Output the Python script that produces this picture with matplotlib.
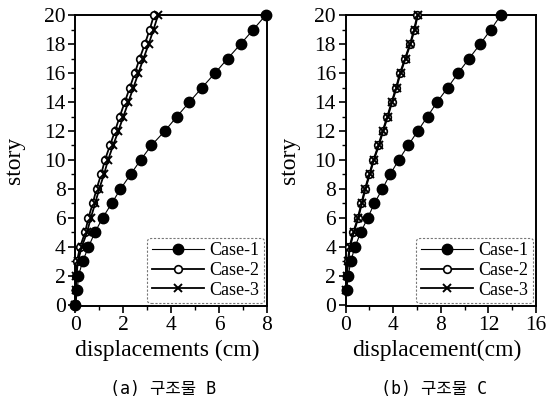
import matplotlib
matplotlib.use('Agg')
import matplotlib.pyplot as plt
from matplotlib.ticker import MultipleLocator

plt.rcParams['font.family'] = ['Liberation Serif', 'DejaVu Serif']

# (a) 구조물 B  : story 0..20
story_a = list(range(0, 21))
case1_a = [0, 0.08, 0.12, 0.30, 0.54, 0.81, 1.13, 1.51, 1.88, 2.30, 2.72,
           3.17, 3.73, 4.24, 4.76, 5.29, 5.83, 6.36, 6.90, 7.43, 7.95]
case2_a = [0, 0.01, 0.02, 0.06, 0.19, 0.40, 0.54, 0.72, 0.88, 1.07, 1.23,
           1.44, 1.65, 1.85, 2.06, 2.27, 2.48, 2.68, 2.90, 3.10, 3.28]
case3_a = [0, 0.02, 0.04, 0.10, 0.26, 0.48, 0.64, 0.82, 0.99, 1.19, 1.36,
           1.57, 1.79, 2.00, 2.21, 2.42, 2.63, 2.84, 3.06, 3.26, 3.45]

# (b) 구조물 C  : story 1..20
story_b = list(range(1, 21))
case1_b = [0.08, 0.22, 0.42, 0.78, 1.26, 1.85, 2.41, 3.08, 3.73, 4.46,
           5.25, 6.06, 6.88, 7.69, 8.59, 9.46, 10.38, 11.31, 12.21, 13.05]
case2_b = [0.02, 0.08, 0.18, 0.32, 0.64, 1.02, 1.32, 1.62, 1.98, 2.33,
           2.75, 3.11, 3.50, 3.87, 4.24, 4.57, 4.99, 5.41, 5.75, 6.03]
case3_b = [0.03, 0.10, 0.21, 0.36, 0.68, 1.06, 1.36, 1.66, 2.02, 2.37,
           2.79, 3.15, 3.54, 3.91, 4.28, 4.61, 5.03, 5.45, 5.79, 6.07]

fig = plt.figure(figsize=(5.53, 4.07), dpi=100)
ax1 = fig.add_axes([0.1365, 0.2482, 0.3463, 0.7149])
ax2 = fig.add_axes([0.6251, 0.2482, 0.3441, 0.7149])


def draw(ax, st, c1, c2, c3, xmax, xmaj, xlabel, lab_x, ylab_x):
    ax.plot(c2, st, '-', color='k', lw=1.3, marker='o', ms=5.5,
            mfc='white', mec='k', mew=1.2, label='Case-2', clip_on=False, zorder=3)
    ax.plot(c3, st, '-', color='k', lw=1.3, marker='x', ms=5.5,
            mew=1.4, label='Case-3', clip_on=False, zorder=3)
    ax.plot(c1, st, '-', color='k', lw=0.8, marker='o', ms=7.5,
            mfc='k', mec='k', label='Case-1', clip_on=False, zorder=4)
    ax.set_xlim(0, xmax)
    ax.set_ylim(-0.07, 20)
    ax.xaxis.set_major_locator(MultipleLocator(xmaj))
    ax.xaxis.set_minor_locator(MultipleLocator(xmaj / 2))
    ax.yaxis.set_major_locator(MultipleLocator(2))
    ax.yaxis.set_minor_locator(MultipleLocator(1))
    ax.tick_params(which='major', direction='out', length=5, width=1.2,
                   labelsize=15.5, pad=2)
    ax.tick_params(which='minor', direction='out', length=3, width=1.0)
    for s in ax.spines.values():
        s.set_linewidth(1.4)
    ax.set_xlabel(xlabel, fontsize=17)
    ax.xaxis.set_label_coords(lab_x, -0.151)
    ax.xaxis.label.set_va('center')
    ax.set_ylabel('story', fontsize=17)
    ax.yaxis.set_label_coords(ylab_x, 0.5)
    ax.yaxis.label.set_va('center')
    h, l = ax.get_legend_handles_labels()
    order = [2, 0, 1]
    leg = ax.legend([h[i] for i in order], [l[i] for i in order],
                    loc='lower right', fontsize=13, frameon=True, fancybox=True,
                    handlelength=2.9, handletextpad=0.3, labelspacing=0.15,
                    borderpad=0.25, borderaxespad=0.15)
    fr = leg.get_frame()
    fr.set_edgecolor('#555555')
    fr.set_linestyle((0, (2, 1.5)))
    fr.set_linewidth(0.8)


draw(ax1, story_a, case1_a, case2_a, case3_a, 8, 2, 'displacements (cm)', 0.478, -0.321)
draw(ax2, story_b, case1_b, case2_b, case3_b, 16, 4, 'displacement(cm)', 0.48, -0.293)

cap_font = ['DejaVu Sans Mono', 'Noto Sans CJK KR']
fig.text(0.295, 0.043, '(a) 구조물 B', ha='center', va='center',
         fontsize=12, family=cap_font)
fig.text(0.785, 0.043, '(b) 구조물 C', ha='center', va='center',
         fontsize=12, family=cap_font)

fig.savefig('out.png', dpi=100)
